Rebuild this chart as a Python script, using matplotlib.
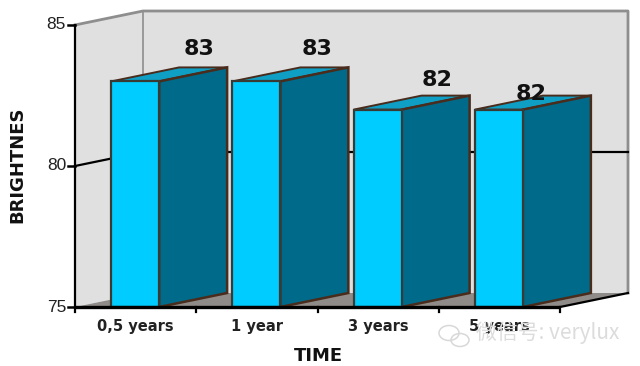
import matplotlib
matplotlib.use("Agg")
import matplotlib.pyplot as plt
from matplotlib.patches import Ellipse

categories = ["0,5 years", "1 year", "3 years", "5 years"]
brightness = [83, 83, 82, 82]
y_ticks = [75, 80, 85]

W, H = 640, 366
plt.rcParams['font.family'] = ['Liberation Sans', 'DejaVu Sans']
BOLD = 'DejaVu Sans'
fig = plt.figure(figsize=(W / 100, H / 100), dpi=100)
L, R, T, B = 75, 560, 25, 307
ax = fig.add_axes([L / W, 1 - B / H, (R - L) / W, (B - T) / H])
n = len(categories)
ax.set_xlim(0, n)
ax.set_ylim(75, 85)
ax.axis('off')

px = n / (R - L)                 # data units per horizontal pixel
py = 10 / (B - T)                # data units per vertical pixel
DX, DY = 68 * px, 14 * py        # 3-D depth offset
ymin, ymax = 75, 85
wall, wall_edge, floor = '#e0e0e0', '#8e8e8e', '#8f8b88'
front, side, top, edge = '#00ccff', '#006a8a', '#0f9ec4', '#4a2c1c'
c = dict(clip_on=False)

# Walls and floor
ax.fill([0, DX, DX, 0], [ymin, ymin + DY, ymax + DY, ymax], fc=wall, ec='none', zorder=1, **c)
ax.fill([DX, n + DX, n + DX, DX], [ymin + DY, ymin + DY, ymax + DY, ymax + DY], fc=wall, ec='none', zorder=1, **c)
ax.fill([0, n, n + DX, DX], [ymin, ymin, ymin + DY, ymin + DY], fc=floor, ec='none', zorder=1, **c)
ax.plot([0, DX, n + DX, n + DX], [ymax, ymax + DY, ymax + DY, ymin + DY], color=wall_edge, lw=2, zorder=2, **c)
ax.plot([DX, DX], [ymin + DY, ymax + DY], color=wall_edge, lw=1.2, zorder=2, **c)

# Gridline at 80
ax.plot([0, DX, n + DX], [80, 80 + DY, 80 + DY], color='black', lw=1.6, zorder=3, **c)

# Bars
bw = 48 * px
label_dx = [63, 60, 59, 32]
label_dy = [32, 32, 30, 16]
for i, v in enumerate(brightness):
    x0 = i + 0.5 - bw / 2 - 0.5 * px
    x1 = x0 + bw
    z = 4 + i
    ax.fill([x0, x1, x1 + DX, x0 + DX], [v, v, v + DY, v + DY], fc=top, ec=edge, lw=1.4, zorder=z, **c)
    ax.fill([x1, x1 + DX, x1 + DX, x1], [ymin, ymin + DY, v + DY, v], fc=side, ec=edge, lw=1.8, zorder=z, **c)
    ax.fill([x0, x1, x1, x0], [ymin, ymin, v, v], fc=front, ec='#3a3a34', lw=1.6, zorder=z, **c)
    ax.text(i + 0.5 + label_dx[i] * px, v + label_dy[i] * py, str(v), ha='center', va='center',
            fontsize=16, fontweight='bold', family=BOLD, color='#111111', zorder=12, **c)

# Axes
ax.plot([0, n], [ymin, ymin], color='black', lw=2.4, solid_capstyle='butt', zorder=10, **c)
ax.plot([n, n + DX], [ymin, ymin + DY], color='black', lw=1.6, zorder=10, **c)
ax.plot([0, 0], [ymin, ymax], color='black', lw=1.6, zorder=10, **c)
for t in y_ticks:
    ax.plot([-7 * px, 0], [t, t], color='black', lw=1.8, zorder=10, **c)
    ax.text(-9 * px, t, str(t), ha='right', va='center', fontsize=12.5, color='#222222', **c)
for i in range(n + 1):
    ax.plot([i, i], [ymin, ymin - 5 * py], color='black', lw=1.6, zorder=10, **c)
for i, name in enumerate(categories):
    ax.text(i + 0.5, ymin - 19 * py, name, ha='center', va='center', fontsize=10.5,
            fontweight='bold', family=BOLD, color='#222222', **c)

# Axis titles
fig.text(318 / W, 1 - 356 / H, 'TIME', ha='center', va='center', fontsize=13, fontweight='bold',
         family=BOLD, color='#111111')
fig.text(17 / W, 1 - 165 / H, 'BRIGHTNES', ha='center', va='center', rotation=90, fontsize=13,
         fontweight='bold', family=BOLD, color='#111111')

# Watermark
fig.text(548 / W, 1 - 333 / H, '微信号: verylux', ha='center', va='center', fontsize=15,
         color='#dcdcdc', family=['Noto Sans CJK SC', 'DejaVu Sans'])
for cx, cy, ew, eh in [(449, 333, 20, 15), (460, 340, 18, 13)]:
    fig.add_artist(Ellipse((cx / W, 1 - cy / H), ew / W, eh / H, transform=fig.transFigure,
                           fc='none', ec='#d8d8d8', lw=1.1))

fig.savefig('out.png', dpi=100)
